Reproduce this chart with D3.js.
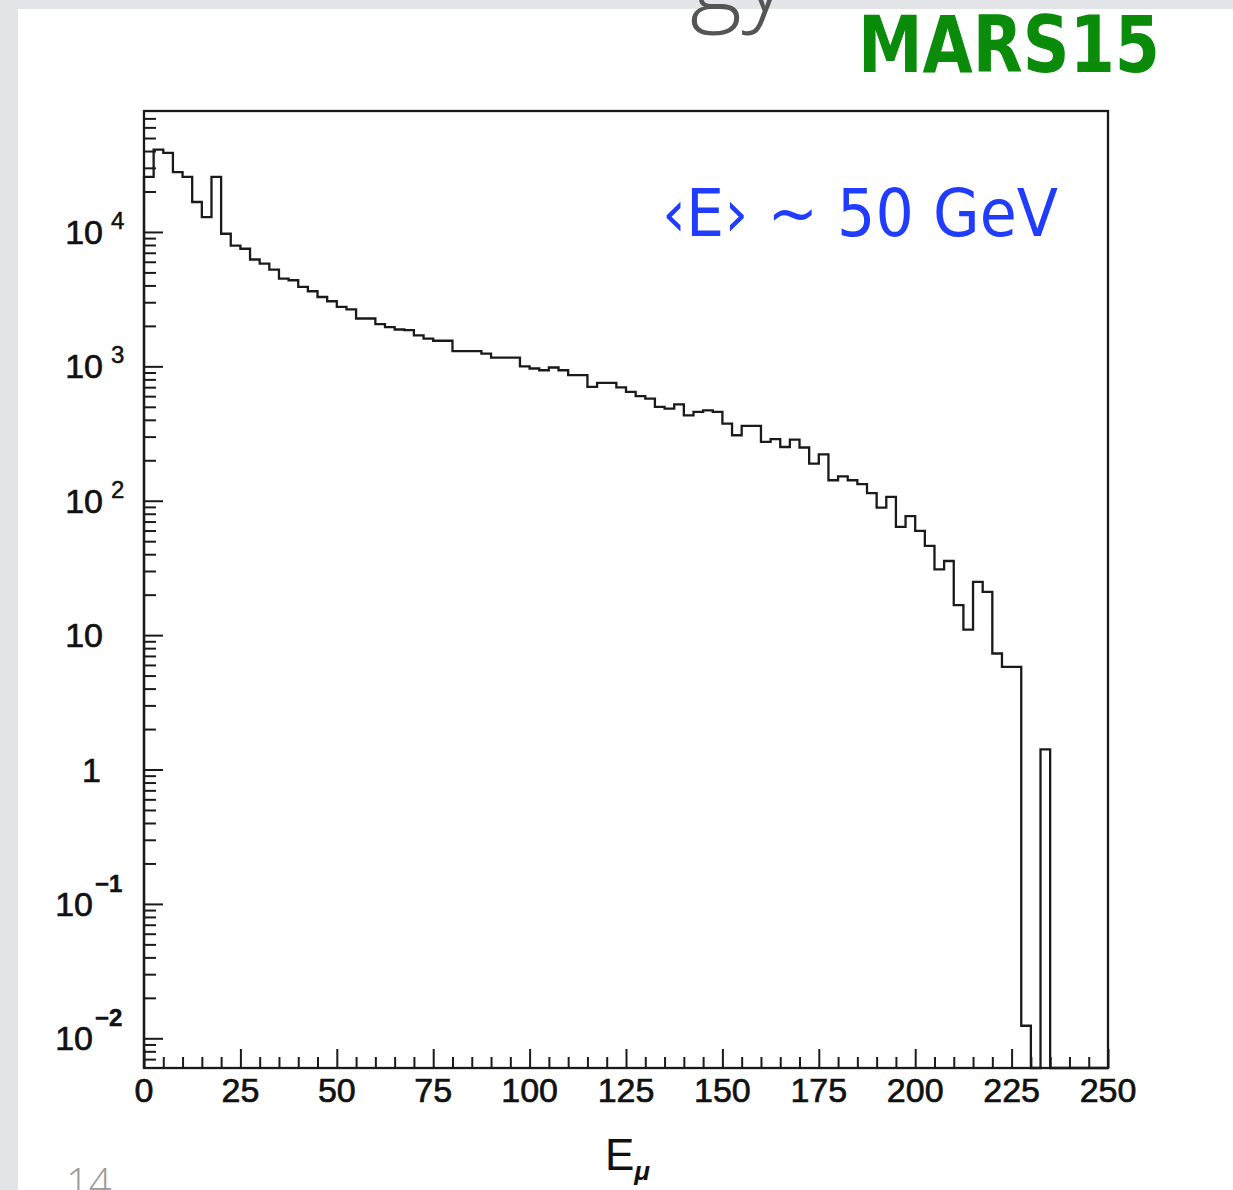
<!DOCTYPE html>
<html>
<head>
<meta charset="utf-8">
<script src="https://cdn.jsdelivr.net/npm/d3@7"></script>
<style>
  body { margin: 0; background: #fff; }
  svg { display: block; }
</style>
</head>
<body>
<div id="chart"></div>
<script>
// histogram of muon energies, 2.5 GeV bins from 0 to 250
const binWidth = 2.5;
const counts = [
  25700, 41000, 38700, 27900, 25700, 16700, 12900, 25700, 9700, 7900,
  7500, 6240, 5820, 5250, 4500, 4370, 3900, 3620, 3280, 3050,
  2770, 2650, 2270, 2270, 2060, 1960, 1880, 1860, 1700, 1610,
  1550, 1550, 1300, 1300, 1300, 1245, 1160, 1160, 1160, 1000,
  964, 935, 980, 935, 859, 859, 703, 753, 753, 698,
  645, 600, 576, 499, 485, 522, 432, 458, 471, 458,
  375, 307, 360, 360, 274, 287, 251, 285, 249, 189,
  221, 142, 152, 142, 133, 114, 89, 107, 63.8, 76.7,
  59.6, 46.1, 30.9, 35.6, 16.7, 11.0, 24.9, 21.0, 7.3, 5.8,
  5.8, 0.0124, 0, 1.41, 0, 0, 0, 0, 0, 0
];
const xTicksMajor = [0, 25, 50, 75, 100, 125, 150, 175, 200, 225, 250];
const xTicksMinor = [5, 10, 15, 20, 30, 35, 40, 45, 55, 60, 65, 70, 80, 85, 90, 95,
  105, 110, 115, 120, 130, 135, 140, 145, 155, 160, 165, 170, 180, 185, 190, 195,
  205, 210, 215, 220, 230, 235, 240, 245];
const yExponents = [-2, -1, 0, 1, 2, 3, 4];
const yLabels = ["10", "10", "1", "10", "10", "10", "10"];
const yLabelExps = ["−2", "−1", "", "", "2", "3", "4"];

const W = 1233, H = 1190;
const svg = d3.select("#chart").append("svg")
  .attr("width", W)
  .attr("height", H);

// slide background
svg.append("rect").attr("width", W).attr("height", H).attr("fill", "#e4e5e8");
svg.append("rect").attr("x", 18).attr("y", 9).attr("width", W - 18).attr("height", H - 9).attr("fill", "#fff");

// leftover of the slide title and page number
svg.append("text")
  .attr("x", 690).attr("y", 12)
  .style("font-family", "'Open Sans', 'DejaVu Sans', sans-serif")
  .style("font-weight", 300)
  .style("font-size", "100px")
  .attr("fill", "#555")
  .text("gy");
svg.append("text")
  .attr("x", 66).attr("y", 1197)
  .style("font-family", "'Open Sans', 'DejaVu Sans', sans-serif")
  .style("font-weight", 300)
  .style("font-size", "40px")
  .attr("fill", "#999")
  .text("14");

const pLeft = 144, pRight = 1108, pTop = 111, pBottom = 1068;
const x = d3.scaleLinear().domain([0, 250]).range([pLeft, pRight]);
const y = d3.scaleLog().domain([Math.pow(10, -2.221), Math.pow(10, 4.9)]).range([pBottom, pTop]);
const yMin = y.domain()[0];

// y minor tick values 2..9 x 10^n inside the domain
const yMinor = [];
for (let e = -3; e <= 4; e++) {
  for (let k = 2; k <= 9; k++) {
    const v = k * Math.pow(10, e);
    if (v >= yMin && v <= y.domain()[1]) yMinor.push(v);
  }
}
const yMajor = yExponents.map(e => Math.pow(10, e));

const ink = "#1a1a1a";

// ticks (inward)
const gx1 = svg.append("g").attr("transform", `translate(0,${pBottom})`)
  .call(d3.axisBottom(x).tickValues(xTicksMinor).tickSize(-11).tickFormat(""));
const gx2 = svg.append("g").attr("transform", `translate(0,${pBottom})`)
  .call(d3.axisBottom(x).tickValues(xTicksMajor).tickSize(-19).tickFormat(""));
const gy1 = svg.append("g").attr("transform", `translate(${pLeft},0)`)
  .call(d3.axisLeft(y).tickValues(yMinor).tickSize(-12).tickFormat(""));
const gy2 = svg.append("g").attr("transform", `translate(${pLeft},0)`)
  .call(d3.axisLeft(y).tickValues(yMajor).tickSize(-19).tickFormat(""));
[gx1, gx2, gy1, gy2].forEach(g => {
  g.select(".domain").remove();
  g.selectAll(".tick line").attr("stroke", ink).attr("stroke-width", 2);
});

// histogram outline
const pts = [[x(0), y(yMin)]];
counts.forEach((c, i) => {
  const v = c > 0 ? c : yMin;
  pts.push([x(i * binWidth), y(v)]);
  pts.push([x((i + 1) * binWidth), y(v)]);
});
pts.push([x(counts.length * binWidth), y(yMin)]);
svg.append("path")
  .attr("d", d3.line()(pts))
  .attr("fill", "none")
  .attr("stroke", ink)
  .attr("stroke-width", 2.3)
  .attr("stroke-linejoin", "miter");

// frame
svg.append("rect")
  .attr("x", pLeft).attr("y", pTop)
  .attr("width", pRight - pLeft).attr("height", pBottom - pTop)
  .attr("fill", "none")
  .attr("stroke", ink)
  .attr("stroke-width", 2.3);

const labelFont = "'Liberation Sans', Arial, sans-serif";

// x labels
svg.append("g").selectAll("text")
  .data(xTicksMajor)
  .join("text")
  .attr("x", d => x(d))
  .attr("y", 1102)
  .attr("text-anchor", "middle")
  .style("font-family", labelFont)
  .style("font-size", "34px")
  .attr("fill", "#111")
  .attr("stroke", "#111")
  .attr("stroke-width", 0.7)
  .text(d => d);

// y labels with exponents
const yl = svg.append("g");
yExponents.forEach((e, i) => {
  const ty = y(Math.pow(10, e));
  const neg = e < 0;
  const bx = e === 0 ? 101 : (neg ? 93 : 103);
  yl.append("text")
    .attr("x", bx).attr("y", ty + 12)
    .attr("text-anchor", "end")
    .style("font-family", labelFont)
    .style("font-size", "34px")
    .attr("fill", "#111")
    .attr("stroke", "#111")
    .attr("stroke-width", 0.7)
    .text(yLabels[i]);
  if (yLabelExps[i]) {
    yl.append("text")
      .attr("x", neg ? 95 : 111).attr("y", neg ? ty - 12 : ty - 3)
      .style("font-family", labelFont)
      .style("font-size", "24px")
      .style("font-weight", neg ? 700 : 400)
      .attr("fill", "#111")
      .attr("stroke", "#111")
      .attr("stroke-width", 0.5)
      .text(yLabelExps[i]);
  }
});

// x title
const xt = svg.append("text")
  .attr("x", 605).attr("y", 1170)
  .style("font-family", labelFont)
  .style("font-size", "44px")
  .attr("fill", "#111");
xt.append("tspan").text("E");
xt.append("tspan")
  .attr("dy", 10)
  .style("font-size", "26px")
  .style("font-style", "italic")
  .style("font-weight", 700)
  .text("μ");

// annotations
svg.append("text")
  .attr("x", 858).attr("y", 72)
  .attr("textLength", 302)
  .attr("lengthAdjust", "spacingAndGlyphs")
  .style("font-family", "'DejaVu Sans', sans-serif")
  .style("font-weight", 700)
  .style("font-size", "78px")
  .attr("fill", "#0a8c0a")
  .text("MARS15");

svg.append("text")
  .attr("x", 662).attr("y", 236)
  .attr("textLength", 396)
  .attr("lengthAdjust", "spacingAndGlyphs")
  .style("font-family", "'DejaVu Sans', sans-serif")
  .style("font-size", "66px")
  .attr("fill", "#1f3cff")
  .text("‹E› ~ 50 GeV");
</script>
</body>
</html>
